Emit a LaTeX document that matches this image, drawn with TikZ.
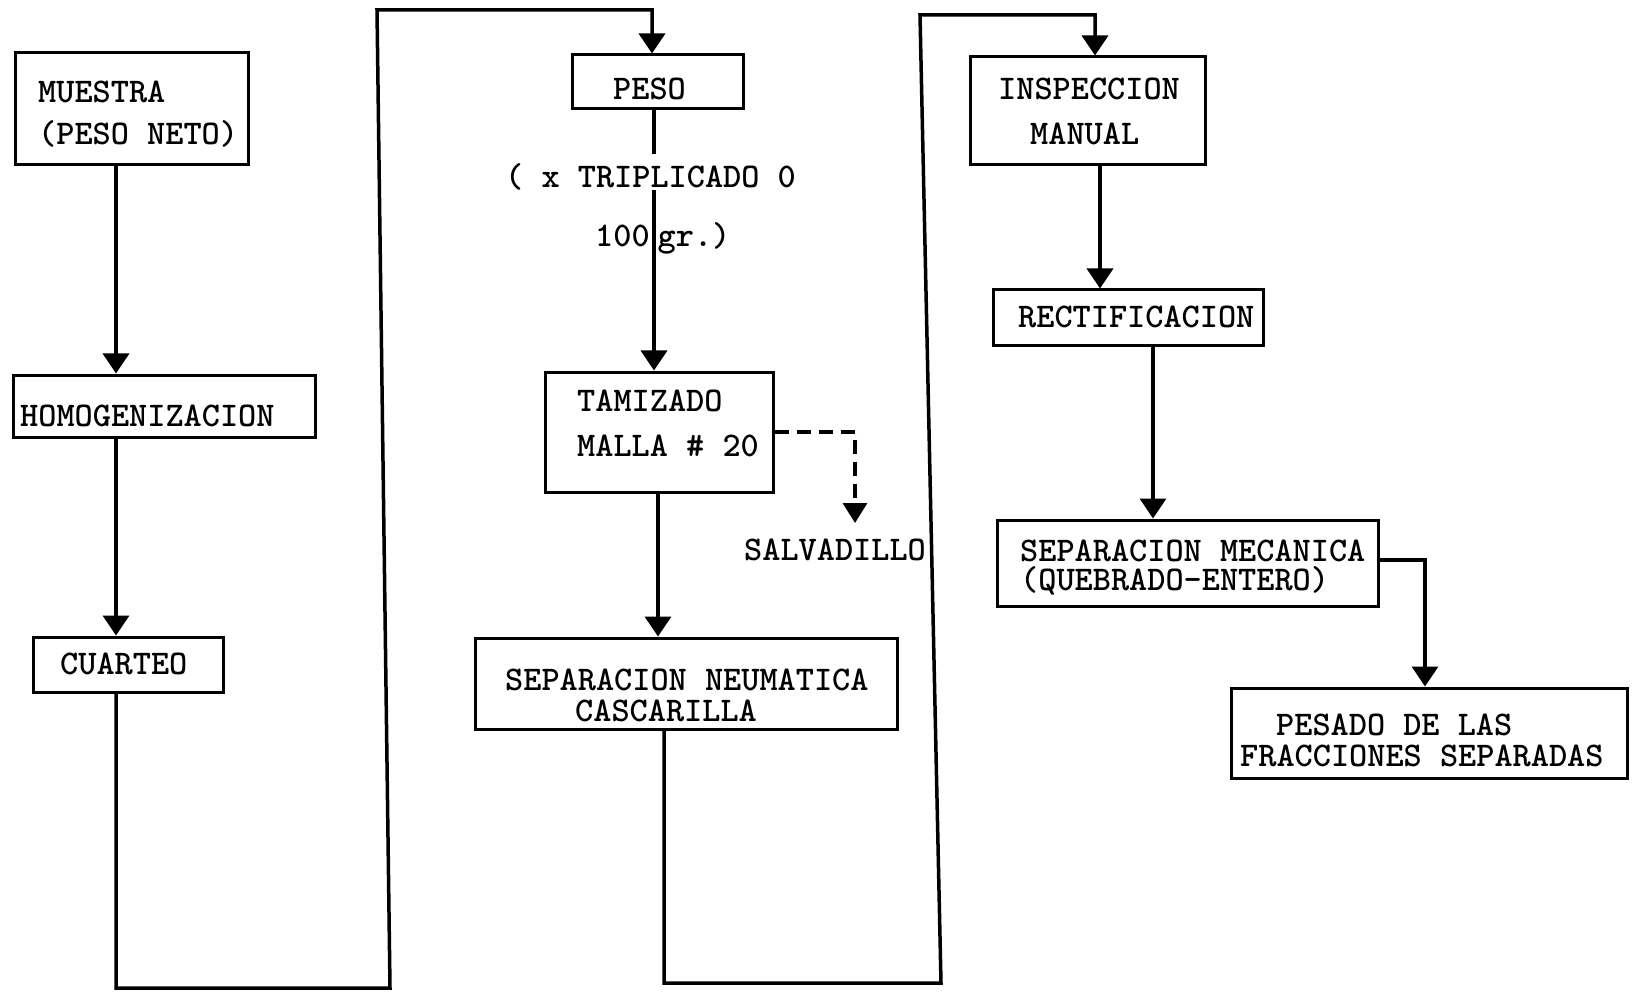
\documentclass[tikz,border=0pt]{standalone}
\usetikzlibrary{arrows.meta}
\hfuzz=200pt
\begin{document}
\begin{tikzpicture}[x=1pt,y=-1pt,
  box/.style={draw, line width=3pt, inner sep=0pt, rectangle},
  txt/.style={inner sep=0pt, anchor=base west, align=left,
    font=\fontsize{34.6}{#1}\selectfont\ttfamily\bfseries},
  txt/.default=40,
  link/.style={line width=3.5pt},
  flow/.style={link, -{Triangle[width=26pt,length=20pt]}},
  waste/.style={link, dash pattern=on 14pt off 8pt, -{Triangle[width=24pt,length=20pt]}}
]
\useasboundingbox (0,0) rectangle (1639,992);

% process boxes
\node[box, minimum width=233pt, minimum height=112pt] (muestra) at (131.5,109) {};
\node[box, minimum width=302pt, minimum height=62pt]  (homog)   at (164,406) {};
\node[box, minimum width=190pt, minimum height=55pt]  (cuarteo) at (128,664.5) {};
\node[box, minimum width=171pt, minimum height=54pt]  (peso)    at (657.5,82) {};
\node[box, minimum width=228pt, minimum height=120pt] (tamiz)   at (659,432) {};
\node[box, minimum width=422pt, minimum height=91pt]  (sepneu)  at (686,683.5) {};
\node[box, minimum width=235pt, minimum height=108pt] (insp)    at (1087.5,111) {};
\node[box, minimum width=270pt, minimum height=56pt]  (rect)    at (1128,318) {};
\node[box, minimum width=381pt, minimum height=86pt]  (sepmec)  at (1187.5,563) {};
\node[box, minimum width=396pt, minimum height=90pt]  (pesado)  at (1429,733) {};

% typed labels (anchored at the baseline of the last line)
\node[txt=42] (t1)  at (38,144.5) {MUESTRA\\(PESO NETO)};
\node[txt]    (t2)  at (20,426.5) {HOMOGENIZACION};
\node[txt]    (t3)  at (60,674.5) {CUARTEO};
\node[txt]    (t4)  at (613,99.5) {PESO};
\node[txt=45] (t6)  at (577,456.5) {TAMIZADO\\MALLA \# 20};
\node[txt]    (sal) at (744,560) {SALVADILLO};
\node[txt=30.5] (t7) at (505,721) {SEPARACION NEUMATICA\\\hspace*{70pt}CASCARILLA};
\node[txt=45] (t8)  at (998,144.5) {INSPECCION\\\hspace*{32pt}MANUAL};
\node[txt]    (t9)  at (1018,327) {RECTIFICACION};
\node[txt=29] (t10) at (1020,590) {SEPARACION MECANICA\\(QUEBRADO-ENTERO)};
\node[txt=30.5] (t11) at (1240,766) {\hspace*{36pt}PESADO DE LAS\\FRACCIONES SEPARADAS};

% route columns and corners
\coordinate (c1) at (116,988);
\coordinate (c2) at (390,988);
\coordinate (c3) at (377,10);
\coordinate (c4) at (652,10);
\coordinate (c5) at (654,0);
\coordinate (c6) at (658,0);
\coordinate (d1) at (855,432);
\coordinate (d2) at (855,523);
\coordinate (e1) at (664,983);
\coordinate (e2) at (941,983);
\coordinate (e3) at (920,15);
\coordinate (e4) at (1095,15);
\coordinate (f1) at (1100,0);
\coordinate (f2) at (1153,0);
\coordinate (g1) at (1425,560);

% first column
\draw[flow] (muestra.south -| c1) -- (homog.north -| c1);
\draw[flow] (homog.south -| c1) -- (cuarteo.north -| c1);
\draw[flow] (cuarteo.south -| c1) -- (c1) -- (c2) -- (c3) -- (c4) -- (peso.north -| c4);

% second column
\draw[flow] (peso.south -| c5) -- (tamiz.north -| c5);
\draw[flow] (tamiz.south -| c6) -- (sepneu.north -| c6);
\draw[waste] (tamiz.east |- d1) -- (d1) -- (d2);
\draw[flow] (sepneu.south -| e1) -- (e1) -- (e2) -- (e3) -- (e4) -- (insp.north -| e4);

% label on the weighing line
\node[txt, fill=white, inner xsep=3pt, inner ysep=3pt, text height=30pt, text depth=0pt] (t5a) at (502,187.5) {( x TRIPLICADO 0};
\node[txt] (t5b) at (595,246.5) {100\hspace{8pt}gr.)};

% third column
\draw[flow] (insp.south -| f1) -- (rect.north -| f1);
\draw[flow] (rect.south -| f2) -- (sepmec.north -| f2);
\draw[flow] (sepmec.east |- g1) -- (g1) -- (pesado.north -| g1);
\end{tikzpicture}
\end{document}
